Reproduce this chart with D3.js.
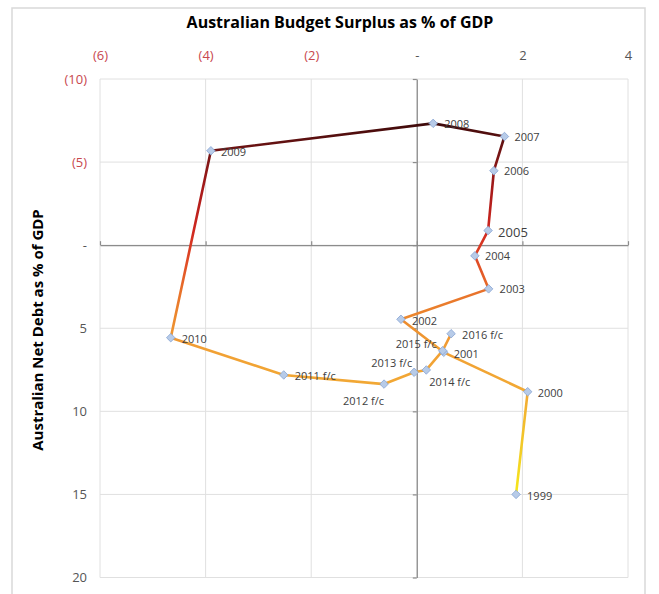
<!DOCTYPE html>
<html>
<head>
<meta charset="utf-8">
<script src="https://cdn.jsdelivr.net/npm/d3@7"></script>
<style>
  html, body { margin: 0; padding: 0; background: #fff; }
  svg { display: block; font-family: "Open Sans", "Noto Sans", sans-serif; }
</style>
</head>
<body>
<svg id="chart" width="659" height="594"></svg>
<script>
// Year labels, budget surplus (% of GDP) and net debt (% of GDP)
const years = ["1999", "2000", "2001", "2002", "2003", "2004", "2005", "2006", "2007",
  "2008", "2009", "2010", "2011 f/c", "2012 f/c", "2013 f/c", "2014 f/c", "2015 f/c", "2016 f/c"];
const surplus = [1.88, 2.10, 0.51, -0.30, 1.36, 1.10, 1.35, 1.46, 1.66,
  0.31, -3.90, -4.66, -2.52, -0.62, -0.05, 0.18, 0.49, 0.65];
const netDebt = [15.0, 8.82, 6.45, 4.46, 2.63, 0.64, -0.88, -4.48, -6.54,
  -7.33, -5.68, 5.57, 7.81, 8.36, 7.65, 7.51, 6.35, 5.33];

// Axis ticks
const xTicks = [-6, -4, -2, 0, 2, 4];
const yTicks = [-10, -5, 0, 5, 10, 15, 20];

// Label placement around each point: [dx, dy, anchor]
const labelPlacement = {
  "1999": [11, 1, "start"], "2000": [10, 1, "start"], "2001": [10, 1, "start"],
  "2002": [11, 1, "start"], "2003": [11, 0, "start"], "2004": [10, 0, "start"],
  "2005": [10, 1, "start"], "2006": [10, 0, "start"], "2007": [10, 0, "start"],
  "2008": [11, 0, "start"], "2009": [10, 1, "start"], "2010": [11, 1, "start"],
  "2011 f/c": [11, 1, "start"], "2012 f/c": [0, 16, "end"], "2013 f/c": [-2, -10, "end"],
  "2014 f/c": [3, 12, "start"], "2015 f/c": [-6, -7, "end"], "2016 f/c": [11, 1, "start"]
};

const data = years.map((y, i) => ({ year: y, x: surplus[i], y: netDebt[i] }));

const svg = d3.select("#chart");
const plot = { left: 100, right: 628, top: 79, bottom: 577.5 };

const x = d3.scaleLinear().domain([-6, 4]).range([plot.left, plot.right]);
const y = d3.scaleLinear().domain([-10, 20]).range([plot.top, plot.bottom]);

const fmt = v => v < 0 ? "(" + Math.abs(v) + ")" : (v === 0 ? "-" : String(v));
const tickColor = v => v < 0 ? "#c8484e" : "#555";

// Outer frame
svg.append("path")
  .attr("d", "M12,600 L12,8 L645,8 L645,600")
  .attr("fill", "none").attr("stroke", "#d9d9d9").attr("stroke-width", 1.5);

// Gridlines
const grid = svg.append("g").attr("stroke", "#e0e0e0").attr("stroke-width", 1);
grid.selectAll("line.v").data(xTicks).join("line")
  .attr("x1", d => x(d)).attr("x2", d => x(d))
  .attr("y1", plot.top).attr("y2", plot.bottom);
grid.selectAll("line.h").data(yTicks).join("line")
  .attr("x1", plot.left).attr("x2", plot.right)
  .attr("y1", d => y(d)).attr("y2", d => y(d));

// Axis lines crossing at zero, with small tick marks
const axisCol = "#8c8c8c";
const hAxis = svg.append("g").attr("transform", `translate(0,${y(0)})`)
  .call(d3.axisTop(x).tickValues(xTicks).tickSize(4).tickSizeOuter(0).tickFormat(""));
const vAxis = svg.append("g").attr("transform", `translate(${x(0)},0)`)
  .call(d3.axisLeft(y).tickValues(yTicks).tickSize(4).tickSizeOuter(0).tickFormat(""));
[hAxis, vAxis].forEach(g => {
  g.select(".domain").attr("stroke", axisCol).attr("stroke-width", 1.2);
  g.selectAll(".tick line").attr("stroke", axisCol).attr("stroke-width", 1.2);
});

// Tick labels: along the top and the left side
const topLabels = svg.append("g").attr("transform", `translate(0,${plot.top})`)
  .call(d3.axisTop(x).tickValues(xTicks).tickSize(0).tickPadding(19).tickFormat(fmt));
const leftLabels = svg.append("g").attr("transform", `translate(${plot.left},0)`)
  .call(d3.axisLeft(y).tickValues(yTicks).tickSize(0).tickPadding(13).tickFormat(fmt));
[topLabels, leftLabels].forEach(g => {
  g.select(".domain").remove();
  g.selectAll(".tick text")
    .attr("font-family", "'Open Sans', sans-serif")
    .attr("font-size", 13)
    .attr("fill", d => tickColor(d));
});

// Vertical colour gradient along the path
const defs = svg.append("defs");
const grad = defs.append("linearGradient").attr("id", "pathGrad")
  .attr("gradientUnits", "userSpaceOnUse")
  .attr("x1", 0).attr("x2", 0)
  .attr("y1", y(d3.min(netDebt))).attr("y2", y(d3.max(netDebt)));
[[0, "#3e0a0a"], [0.07, "#701414"], [0.18, "#a81a1a"], [0.29, "#d02820"],
 [0.37, "#e04a26"], [0.45, "#e8702a"], [0.53, "#ec8a2e"], [0.61, "#f1a034"],
 [0.73, "#f2aa34"], [0.86, "#f2c828"], [1, "#f6e81a"]]
  .forEach(([o, c]) => grad.append("stop").attr("offset", o).attr("stop-color", c));

const line = d3.line().x(d => x(d.x)).y(d => y(d.y));
svg.append("path").datum(data)
  .attr("d", line)
  .attr("fill", "none")
  .attr("stroke", "url(#pathGrad)")
  .attr("stroke-width", 2.6)
  .attr("stroke-linejoin", "round");

// Diamond markers
svg.append("g").selectAll("path").data(data).join("path")
  .attr("d", d3.symbol(d3.symbolSquare, 36))
  .attr("transform", d => `translate(${x(d.x)},${y(d.y)}) rotate(45)`)
  .attr("fill", "#b7cbe8")
  .attr("stroke", "#8aa6d4")
  .attr("stroke-width", 0.8);

// Point labels
svg.append("g").selectAll("text").data(data).join("text")
  .attr("x", d => x(d.x) + labelPlacement[d.year][0])
  .attr("y", d => y(d.y) + labelPlacement[d.year][1])
  .attr("text-anchor", d => labelPlacement[d.year][2])
  .attr("dominant-baseline", "central")
  .attr("font-size", d => d.year === "2005" ? 13 : 11)
  .attr("fill", "#404040")
  .text(d => d.year);

// Titles
svg.append("text")
  .attr("x", 340).attr("y", 22)
  .attr("text-anchor", "middle").attr("dominant-baseline", "central")
  .attr("font-size", 16).attr("font-weight", "bold").attr("fill", "#000")
  .text("Australian Budget Surplus as % of GDP");

svg.append("text")
  .attr("transform", "translate(37,330) rotate(-90)")
  .attr("text-anchor", "middle").attr("dominant-baseline", "central")
  .attr("font-size", 15).attr("font-weight", "bold").attr("fill", "#000")
  .text("Australian Net Debt as % of GDP");
</script>
</body>
</html>
